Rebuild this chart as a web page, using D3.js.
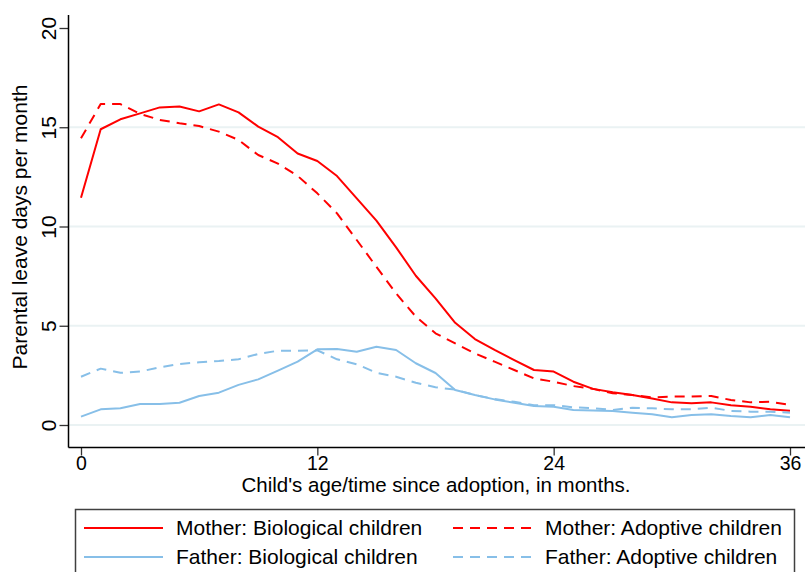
<!DOCTYPE html>
<html>
<head>
<meta charset="utf-8">
<script src="https://cdn.jsdelivr.net/npm/d3@7"></script>
<style>
  html, body { margin: 0; padding: 0; background: #fff; }
  svg { display: block; }
  text { font-family: "Liberation Sans", Arial, sans-serif; fill: #000; }
</style>
</head>
<body>
<svg id="chart" width="806" height="572"></svg>
<script>
const months = d3.range(0, 37);
const xTicks = [0, 12, 24, 36];
const yTicks = [0, 5, 10, 15, 20];

const motherBio = [11.45,14.9,15.4,15.7,16.0,16.05,15.8,16.15,15.75,15.03,14.5,13.68,13.3,12.54,11.42,10.3,8.95,7.52,6.38,5.15,4.33,3.78,3.27,2.77,2.69,2.18,1.82,1.65,1.51,1.34,1.14,1.09,1.14,1.0,0.92,0.79,0.72];
const motherAdopt = [14.44,16.17,16.17,15.67,15.37,15.2,15.06,14.78,14.36,13.6,13.17,12.55,11.67,10.66,9.32,7.97,6.63,5.46,4.62,4.11,3.61,3.19,2.77,2.35,2.18,1.96,1.82,1.6,1.51,1.39,1.43,1.43,1.46,1.26,1.14,1.17,1.01];
const fatherBio = [0.42,0.79,0.84,1.06,1.06,1.12,1.46,1.63,2.02,2.30,2.74,3.19,3.81,3.83,3.69,3.94,3.78,3.11,2.62,1.76,1.51,1.29,1.12,0.96,0.92,0.76,0.73,0.71,0.62,0.54,0.39,0.5,0.54,0.45,0.39,0.5,0.39];
const fatherAdopt = [2.43,2.84,2.63,2.69,2.91,3.07,3.16,3.22,3.31,3.58,3.74,3.74,3.76,3.31,3.06,2.63,2.43,2.13,1.9,1.78,1.51,1.31,1.17,1.0,1.0,0.89,0.84,0.76,0.87,0.84,0.79,0.79,0.87,0.71,0.67,0.67,0.62];

const seriesNames = ["Mother: Biological children", "Mother: Adoptive children", "Father: Biological children", "Father: Adoptive children"];
const seriesValues = [motherBio, motherAdopt, fatherBio, fatherAdopt];
const seriesColors = ["#ff0000", "#ff0000", "#87bfe8", "#87bfe8"];
const seriesDash = [null, "10,7", null, "10,7"];

const svg = d3.select("#chart");
const x = d3.scaleLinear().domain([0, 36]).range([81, 790]);
const y = d3.scaleLinear().domain([0, 20]).range([425, 28]);
const plotLeft = 68.5, plotRight = 805, plotTop = 15, plotBottom = 447.5;
const fs = "21px";

// gridlines
svg.append("g").selectAll("line").data(yTicks.filter(t => t < 20)).join("line")
  .attr("x1", plotLeft).attr("x2", plotRight)
  .attr("y1", d => y(d)).attr("y2", d => y(d))
  .attr("stroke", "#eaf2f3").attr("stroke-width", 2);

// Y axis
const yAxis = svg.append("g").attr("transform", `translate(${plotLeft},0)`)
  .call(d3.axisLeft(y).tickValues(yTicks).tickSize(9).tickPadding(4));
yAxis.select(".domain").remove();
yAxis.selectAll(".tick line").attr("stroke", "#333").attr("stroke-width", 1.3);
yAxis.selectAll(".tick text")
  .style("font-size", fs)
  .attr("text-anchor", "middle")
  .attr("x", 0).attr("y", 0).attr("dy", "0.35em")
  .attr("transform", "translate(-20,0) rotate(-90)");
svg.append("line").attr("x1", plotLeft).attr("x2", plotLeft).attr("y1", plotTop).attr("y2", plotBottom)
  .attr("stroke", "#000").attr("stroke-width", 1.5);

// X axis
const xAxis = svg.append("g").attr("transform", `translate(0,${plotBottom})`)
  .call(d3.axisBottom(x).tickValues(xTicks).tickSize(8).tickPadding(2));
xAxis.select(".domain").remove();
xAxis.selectAll(".tick line").attr("stroke", "#333").attr("stroke-width", 1.3);
xAxis.selectAll(".tick text").style("font-size", "19.5px")
  .attr("y", 0).attr("dy", 0).attr("transform", "translate(0,22)");
svg.append("line").attr("x1", plotLeft).attr("x2", plotRight).attr("y1", plotBottom).attr("y2", plotBottom)
  .attr("stroke", "#000").attr("stroke-width", 1.5);

// axis titles
svg.append("text").attr("x", 436).attr("y", 492).attr("text-anchor", "middle")
  .style("font-size", "20.5px").text("Child's age/time since adoption, in months.");
svg.append("text").attr("transform", "translate(27,227) rotate(-90)").attr("text-anchor", "middle")
  .style("font-size", fs).text("Parental leave days per month");

// lines
const line = d3.line().x((d, i) => x(months[i])).y(d => y(d));
svg.append("g").selectAll("path").data(seriesValues).join("path")
  .attr("d", d => line(d))
  .attr("fill", "none")
  .attr("stroke", (d, i) => seriesColors[i])
  .attr("stroke-width", 2)
  .attr("stroke-linejoin", "round")
  .attr("stroke-dasharray", (d, i) => seriesDash[i]);

// legend
svg.append("rect").attr("x", 75.5).attr("y", 509.5).attr("width", 719).attr("height", 80)
  .attr("fill", "#fff").attr("stroke", "#404040").attr("stroke-width", 1.5);
const legX = [84, 453], legY = [528, 557];
const leg = svg.append("g").selectAll("g").data(seriesNames).join("g")
  .attr("transform", (d, i) => `translate(${legX[i % 2]},${legY[Math.floor(i / 2)]})`);
leg.append("line").attr("x1", 0).attr("x2", 79).attr("y1", 0).attr("y2", 0)
  .attr("stroke", (d, i) => seriesColors[i]).attr("stroke-width", 2)
  .attr("stroke-dasharray", (d, i) => seriesDash[i]);
leg.append("text").attr("x", 92).attr("y", 0).attr("dy", "0.35em")
  .style("font-size", fs).text(d => d);
</script>
</body>
</html>
